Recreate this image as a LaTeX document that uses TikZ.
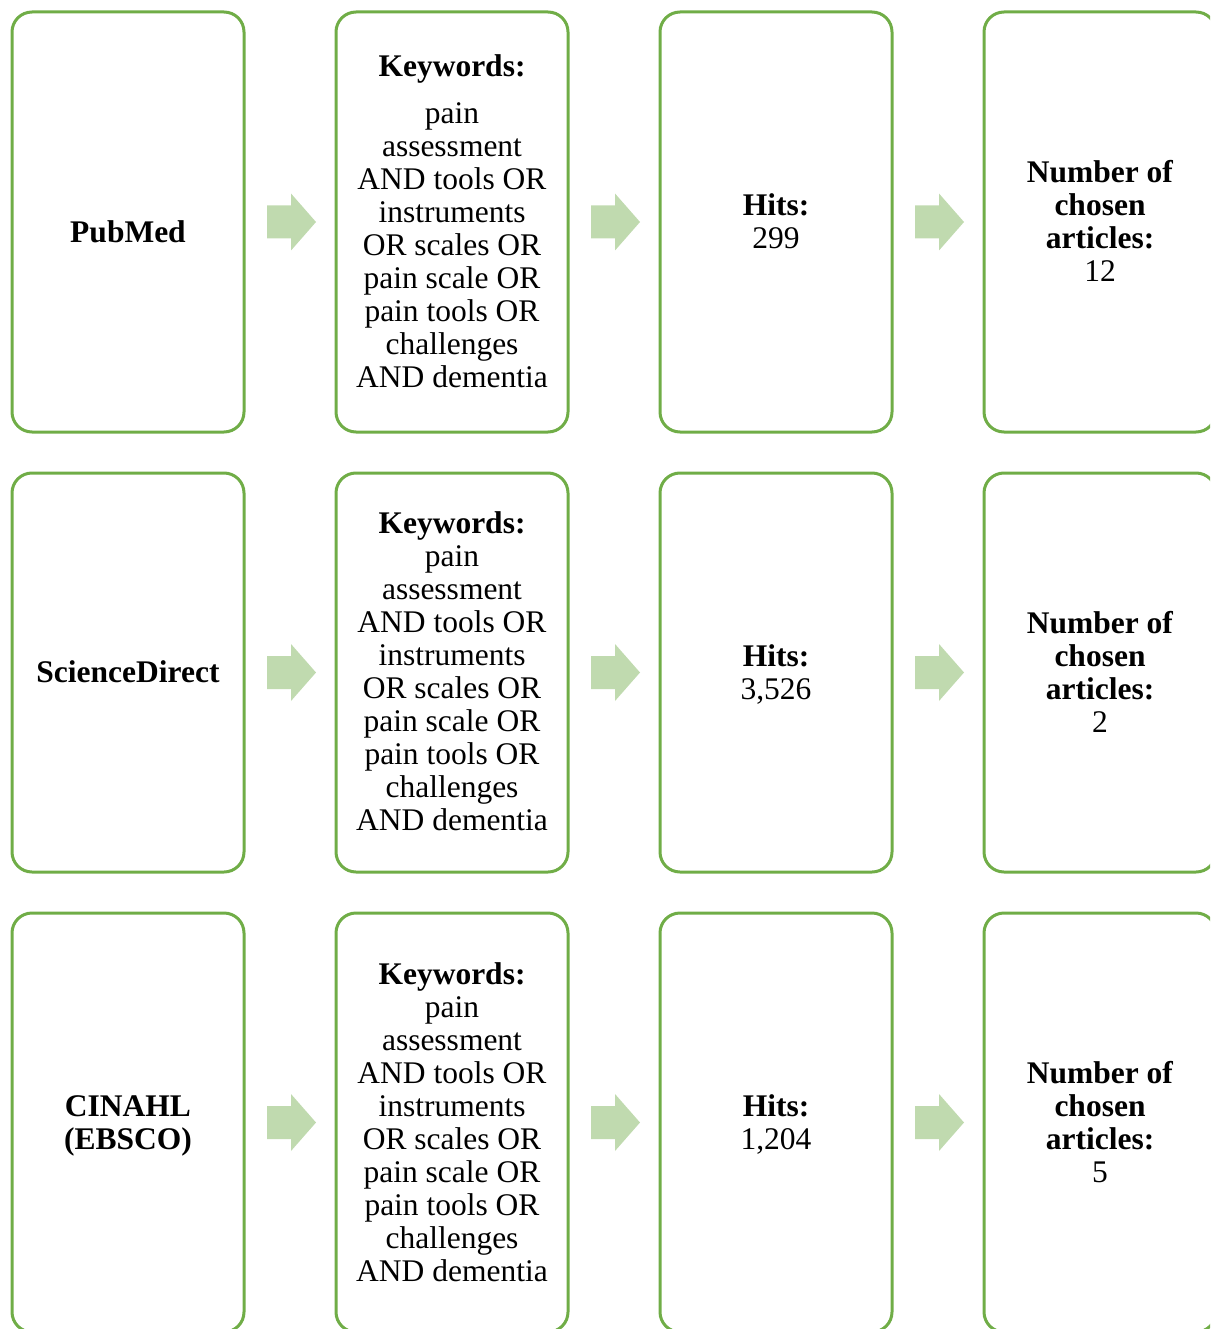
\documentclass[tikz,border=0pt]{standalone}
\usepackage{fontspec}
\setmainfont{Liberation Serif}
\usetikzlibrary{calc}
\definecolor{boxgreen}{HTML}{70AD47}
\definecolor{arrowgreen}{HTML}{C0DAAF}
\newcommand\blockarrow[2]{%
  \fill[blockarr] ($(#1.east)+(23,-16.5)$) -- ($(#1.east)+(47,-16.5)$) -- ($(#1.east)+(47,-28.5)$)
    -- ($(#2.west)+(-20,0)$) -- ($(#1.east)+(47,28.5)$) -- ($(#1.east)+(47,16.5)$)
    -- ($(#1.east)+(23,16.5)$) -- cycle;}
\begin{document}
\begin{tikzpicture}[x=1pt,y=-1pt,
  box/.style={draw=boxgreen, line width=3pt, rounded corners=20pt, minimum width=232pt, inner sep=0pt, outer sep=0pt},
  txt/.style={align=center, font=\fontsize{31.5}{33}\selectfont, inner sep=0pt},
  blockarr/.style={fill=arrowgreen}]
\useasboundingbox (0,0) rectangle (1210,1329);
\clip (0,0) rectangle (1210,1329);
% row 1
\node[box, minimum height=420pt] (a1) at (128,222) {};
\node[box, minimum height=420pt] (a2) at (452,222) {};
\node[box, minimum height=420pt] (a3) at (776,222) {};
\node[box, minimum height=420pt] (a4) at (1100,222) {};
% row 2
\node[box, minimum height=399pt] (b1) at (128,672.5) {};
\node[box, minimum height=399pt] (b2) at (452,672.5) {};
\node[box, minimum height=399pt] (b3) at (776,672.5) {};
\node[box, minimum height=399pt] (b4) at (1100,672.5) {};
% row 3
\node[box, minimum height=419pt] (c1) at (128,1122.5) {};
\node[box, minimum height=419pt] (c2) at (452,1122.5) {};
\node[box, minimum height=419pt] (c3) at (776,1122.5) {};
\node[box, minimum height=419pt] (c4) at (1100,1122.5) {};
% texts row 1
\node[txt] (a1t) at (128,232) {\textbf{PubMed}};
\node[txt] (a2t) at (452,221) {\textbf{Keywords:}\\[14pt]pain\\assessment\\AND tools OR\\instruments\\OR scales OR\\pain scale OR\\pain tools OR\\challenges\\AND dementia};
\node[txt] (a3t) at (776,221) {\textbf{Hits:}\\299};
\node[txt] (a4t) at (1100,221) {\textbf{Number of}\\\textbf{chosen}\\\textbf{articles:}\\12};
% texts row 2
\node[txt] (b1t) at (128,672) {\textbf{ScienceDirect}};
\node[txt] (b2t) at (452,671.5) {\textbf{Keywords:}\\pain\\assessment\\AND tools OR\\instruments\\OR scales OR\\pain scale OR\\pain tools OR\\challenges\\AND dementia};
\node[txt] (b3t) at (776,674) {\textbf{Hits:}\\3,526};
\node[txt] (b4t) at (1100,671.5) {\textbf{Number of}\\\textbf{chosen}\\\textbf{articles:}\\2};
% texts row 3
\node[txt] (c1t) at (128,1126) {\textbf{CINAHL}\\\textbf{(EBSCO)}};
\node[txt] (c2t) at (452,1122) {\textbf{Keywords:}\\pain\\assessment\\AND tools OR\\instruments\\OR scales OR\\pain scale OR\\pain tools OR\\challenges\\AND dementia};
\node[txt] (c3t) at (776,1124) {\textbf{Hits:}\\1,204};
\node[txt] (c4t) at (1100,1122) {\textbf{Number of}\\\textbf{chosen}\\\textbf{articles:}\\5};
% arrows
\blockarrow{a1}{a2}\blockarrow{a2}{a3}\blockarrow{a3}{a4}
\blockarrow{b1}{b2}\blockarrow{b2}{b3}\blockarrow{b3}{b4}
\blockarrow{c1}{c2}\blockarrow{c2}{c3}\blockarrow{c3}{c4}
\end{tikzpicture}
\end{document}
